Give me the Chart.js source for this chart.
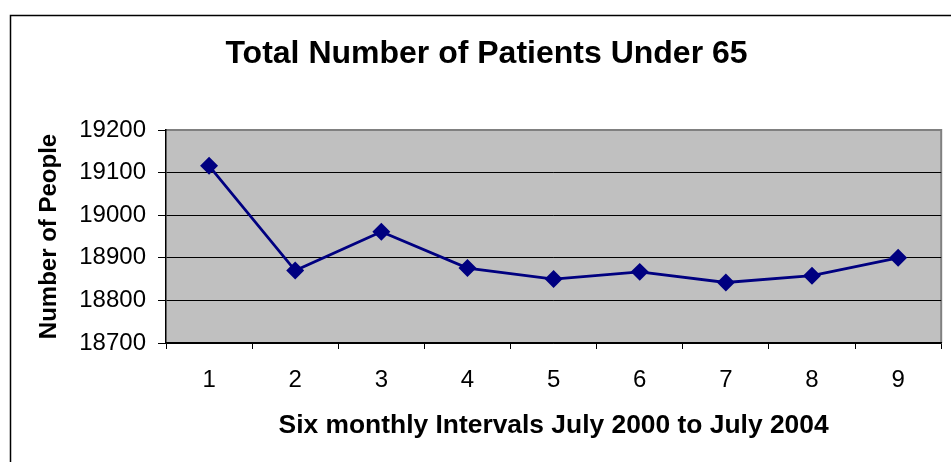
<!doctype html>
<html>
<head>
    <title>Total Number of Patients Under 65</title>
    <script src="https://cdn.jsdelivr.net/npm/chart.js@4.4.0/dist/chart.umd.min.js"></script>
    <style>
    body{
        margin: 0;
        background: #fff;
    }
    </style>
</head>
<body>
    <canvas id="chart-area" width="951" height="462"></canvas>
    <script>
    // data
    var intervals = ['1', '2', '3', '4', '5', '6', '7', '8', '9'];
    var patients = [19116, 18870, 18961, 18876, 18850, 18867, 18842, 18858, 18900];
    var yMin = 18700;
    var yMax = 19200;
    var yStep = 100;

    var fontFamily = "Arial, 'Liberation Sans', sans-serif";

    // grey plot area + outer frame, excel style
    var frame = {
        id: 'frame',
        beforeDraw: function (chart) {
            var ctx = chart.ctx;
            var a = chart.chartArea;
            ctx.save();
            ctx.fillStyle = '#C0C0C0';
            ctx.fillRect(a.left, a.top, a.right - a.left, a.bottom - a.top);
            ctx.strokeStyle = '#808080';
            ctx.lineWidth = 2;
            ctx.beginPath();
            ctx.moveTo(a.left, a.top);
            ctx.lineTo(a.right, a.top);
            ctx.lineTo(a.right, a.bottom);
            ctx.stroke();
            ctx.strokeStyle = '#000';
            ctx.lineWidth = 1.5;
            ctx.strokeRect(10.5, 15.5, 960, 470);
            ctx.restore();
        }
    };

    var config = {
        type: 'line',
        data: {
            labels: intervals,
            datasets: [{
                data: patients,
                borderColor: '#000080',
                backgroundColor: '#000080',
                borderWidth: 2.8,
                pointStyle: 'rectRot',
                pointRadius: 7,
                pointHoverRadius: 7,
                tension: 0
            }]
        },
        options: {
            responsive: false,
            animation: false,
            layout: {
                padding: {left: 31, right: 9, top: 0, bottom: 0}
            },
            plugins: {
                legend: {display: false},
                tooltip: {enabled: false},
                title: {
                    display: true,
                    text: 'Total Number of Patients Under 65',
                    color: '#000',
                    font: {family: fontFamily, size: 32, weight: 'bold'},
                    padding: {top: 35, bottom: 56.6}
                }
            },
            scales: {
                x: {
                    offset: true,
                    grid: {
                        offset: true,
                        drawOnChartArea: false,
                        drawTicks: true,
                        tickLength: 6,
                        color: '#000',
                        tickColor: '#000'
                    },
                    border: {color: '#000', width: 1.5},
                    ticks: {
                        color: '#000',
                        padding: 17,
                        font: {family: fontFamily, size: 24}
                    },
                    title: {
                        display: true,
                        text: 'Six monthly Intervals July 2000 to July 2004',
                        color: '#000',
                        font: {family: fontFamily, size: 26.4, weight: 'bold'},
                        padding: {top: 0, bottom: 20}
                    },
                    afterFit: function (scale) {
                        scale.height = 119;
                    }
                },
                y: {
                    min: yMin,
                    max: yMax,
                    grid: {
                        color: function (c) {
                            return c.tick && c.tick.value === yMax ? '#808080' : '#000';
                        },
                        tickColor: '#000',
                        tickLength: 8,
                        lineWidth: 1
                    },
                    border: {color: '#000', width: 1.5},
                    ticks: {
                        stepSize: yStep,
                        color: '#000',
                        padding: 12,
                        font: {family: fontFamily, size: 24},
                        callback: function (value) {
                            return String(value);
                        }
                    },
                    title: {
                        display: true,
                        text: 'Number of People',
                        color: '#000',
                        font: {family: fontFamily, size: 24, weight: 'bold'},
                        padding: {top: 4, bottom: 0}
                    },
                    afterFit: function (scale) {
                        scale.width = 135;
                    }
                }
            }
        },
        plugins: [frame]
    };

    window.onload = function() {
        var ctx = document.getElementById('chart-area').getContext('2d');
        window.myLine = new Chart(ctx, config);
    };
    </script>
</body>
</html>
